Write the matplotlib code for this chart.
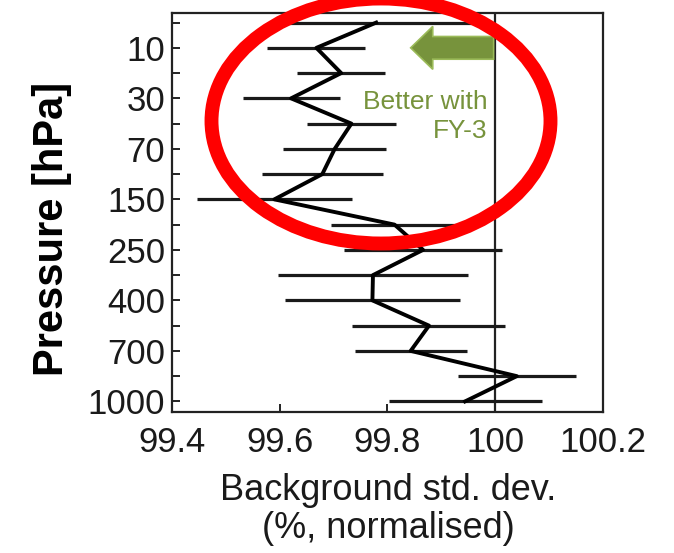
import matplotlib
matplotlib.use("Agg")
import matplotlib.pyplot as plt
from matplotlib.patches import Ellipse, FancyArrow

plt.rcParams["font.family"] = ["Liberation Sans", "DejaVu Sans"]

# Model levels (top to bottom), labelled every second one
level = list(range(1, 17))
level_labels = ["", "10", "", "30", "", "70", "", "150",
                "", "250", "", "400", "", "700", "", "1000"]

# Normalised background std. dev. (%) and error bar half-widths
std_dev = [99.779, 99.668, 99.714, 99.621, 99.733, 99.702, 99.679, 99.590,
           99.813, 99.866, 99.773, 99.772, 99.877, 99.843, 100.040, 99.944]
std_err = [0.183, 0.091, 0.082, 0.090, 0.082, 0.096, 0.112, 0.144,
           0.117, 0.147, 0.176, 0.162, 0.142, 0.104, 0.110, 0.142]

W, H = 674, 553
fig = plt.figure(figsize=(W / 100, H / 100), dpi=100)
ax = fig.add_axes([172 / W, 1 - 412 / H, (603 - 172) / W, (412 - 13) / H])

ax.errorbar(std_dev, level, xerr=std_err, fmt="none", ecolor="#1a1a1a",
            elinewidth=2.3, capsize=0, zorder=2)
ax.plot(std_dev, level, color="black", lw=2.8, zorder=3)
ax.axvline(100, color="#222222", lw=1.6, zorder=1)

ax.set_xlim(99.4, 100.2)
ax.set_ylim(16.42, 0.62)
ax.set_xticks([99.4, 99.6, 99.8, 100, 100.2])
ax.set_xticklabels(["99.4", "99.6", "99.8", "100", "100.2"])
ax.set_yticks(level)
ax.set_yticklabels(level_labels)
ax.tick_params(axis="both", direction="in", length=6, width=1.4,
               color="#222222", labelsize=25, labelcolor="#1a1a1a",
               top=False, right=False)
ax.tick_params(axis="x", pad=10)
ax.tick_params(axis="y", pad=5)
for s in ax.spines.values():
    s.set_linewidth(1.6)
    s.set_color("#222222")

fig.text(52 / W, 1 - 229 / H, "Pressure [hPa]", rotation=90, fontsize=30,
         fontweight="bold", ha="center", va="center")
fig.text(388 / W, 1 - 491 / H, "Background std. dev.", fontsize=26,
         ha="center", va="center", color="#1a1a1a")
fig.text(388 / W, 1 - 528 / H, "(%, normalised)", fontsize=26,
         ha="center", va="center", color="#1a1a1a")

# "Better with FY-3" arrow and text
green = "#77933C"
arr = FancyArrow(99.997, 2, -0.154, 0, width=0.9, head_width=1.7,
                 head_length=0.041, length_includes_head=True,
                 facecolor=green, edgecolor="#9BBB59", lw=1.2, zorder=4)
ax.add_patch(arr)
ax.text(99.985, 4.72, "Better with\nFY-3", color=green, fontsize=19,
        ha="right", va="center", linespacing=1.3, zorder=4)

# red highlight ellipse
ell = Ellipse((381 / W, 1 - 121 / H), 339 / W, 245 / H, transform=fig.transFigure,
              fill=False, edgecolor="#FF0000", lw=10, zorder=10)
fig.add_artist(ell)

fig.savefig("out.png", dpi=100)
